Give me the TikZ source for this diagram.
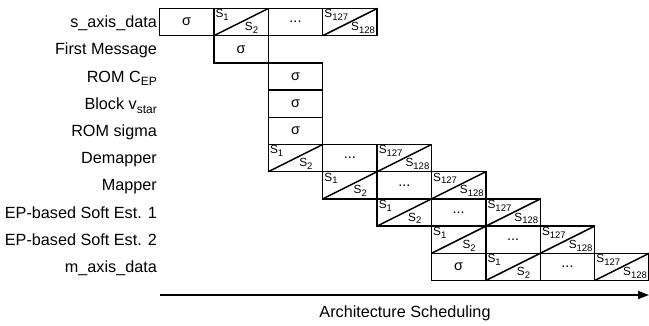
\documentclass[tikz,border=0pt]{standalone}
\usepackage{fontspec}
\setmainfont{Liberation Sans}
\usetikzlibrary{arrows.meta}

% small lowered text for subscripts
\newcommand\subtxt[1]{\raisebox{-2.8pt}{\fontsize{9.5}{10}\selectfont #1}}
\newcommand\lsubtxt[1]{\raisebox{-3.8pt}{\fontsize{12}{12}\selectfont #1}}

% centre of the cell in row #1, column #2
\newcommand\cellxy[2]{({159.5+54.4*(#2+0.5)},{8.5+27.2*(#1+0.5)})}

\tikzset{
  cell/.style={draw, line width=1.5pt, minimum width=54.4pt, minimum height=27.2pt,
    inner sep=0pt, outer sep=0pt, font=\fontsize{14.5}{15}\selectfont},
  rowlabel/.style={anchor=base east, inner sep=0pt, font=\fontsize{16.2}{18}\selectfont},
  slabel/.style={inner sep=0pt, font=\fontsize{11.8}{12}\selectfont},
  diag/.style={line width=1.5pt},
}

\newcommand\sigmacell[3]{\node[cell] (#1) at \cellxy{#2}{#3} {σ};}
\newcommand\dotscell[3]{\node[cell] (#1) at \cellxy{#2}{#3} {...};}
% name, row, column, upper index, lower index, gap of lower label to the right side
\newcommand\splitcell[6]{%
  \node[cell] (#1) at \cellxy{#2}{#3} {};
  \draw[diag] (#1.south west) -- (#1.north east);
  \node[slabel, anchor=north west] (#1-a) at ([xshift=1.5pt,yshift=-1pt]#1.north west) {S\subtxt{#4}};
  \node[slabel, anchor=south east] (#1-b) at ([xshift=-#6pt,yshift=2pt]#1.south east) {S\subtxt{#5}};
}
% name, row, text
\newcommand\rowname[3]{\node[rowlabel] (#1) at (157,{8.5+27.2*(#2+0.5)+5.5}) {#3};}

\begin{document}
\begin{tikzpicture}[x=1pt,y=-1pt]
\useasboundingbox (0,0) rectangle (649,325);

% row names
\rowname{n0}{0}{s\_axis\_data}
\rowname{n1}{1}{First Message}
\rowname{n2}{2}{ROM C\lsubtxt{EP}}
\rowname{n3}{3}{Block v\lsubtxt{star}}
\rowname{n4}{4}{ROM sigma}
\rowname{n5}{5}{Demapper}
\rowname{n6}{6}{Mapper}
\rowname{n7}{7}{EP-based Soft Est. 1}
\rowname{n8}{8}{EP-based Soft Est. 2}
\rowname{n9}{9}{m\_axis\_data}

% s_axis_data
\sigmacell{r0a}{0}{0}
\splitcell{r0b}{0}{1}{1}{2}{10}
\dotscell{r0c}{0}{2}
\splitcell{r0d}{0}{3}{127}{128}{2}

% first message and ROM / block reads
\sigmacell{r1a}{1}{1}
\sigmacell{r2a}{2}{2}
\sigmacell{r3a}{3}{2}
\sigmacell{r4a}{4}{2}

% pipelined stages
\foreach \r/\c in {5/2, 6/3, 7/4, 8/5}{
  \splitcell{r\r b}{\r}{\c}{1}{2}{10}
  \dotscell{r\r c}{\r}{\c+1}
  \splitcell{r\r d}{\r}{\c+2}{127}{128}{2}
}

% m_axis_data
\sigmacell{r9a}{9}{5}
\splitcell{r9b}{9}{6}{1}{2}{10}
\dotscell{r9c}{9}{7}
\splitcell{r9d}{9}{8}{127}{128}{2}

% time axis
\coordinate (t0) at (159.5,295);
\coordinate (t1) at (649,295);
\draw[line width=1.5pt, -{Triangle[length=11pt,width=8pt]}] (t0) -- (t1);
\node[inner sep=0pt, font=\fontsize{16.2}{18}\selectfont] (tl) at (405,313) {Architecture Scheduling};
\end{tikzpicture}
\end{document}
